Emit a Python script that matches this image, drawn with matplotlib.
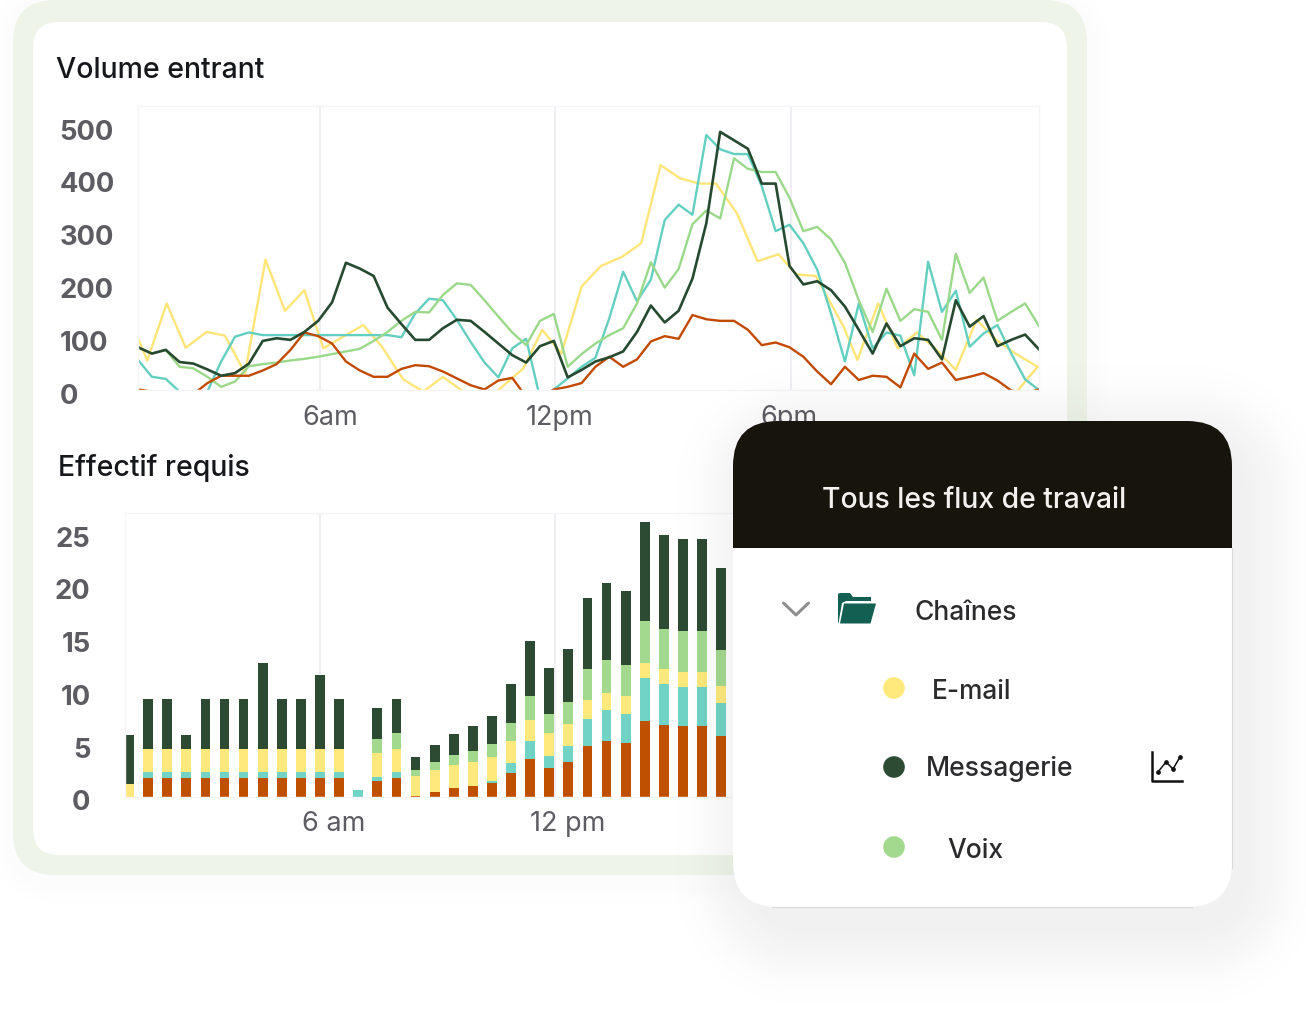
import numpy as np
import matplotlib
matplotlib.use("Agg")
import matplotlib.pyplot as plt
from matplotlib.patches import FancyBboxPatch, Rectangle, Circle, Polygon

W, H = 1306, 1024

# volume entrant, one value per sample
dark_line = [81, 69, 76, 53, 50, 39, 27, 32, 50, 93, 98, 95, 110, 131, 166, 241, 230, 216, 156, 125, 95, 95, 117, 133,
             131, 110, 88, 66, 52, 83, 93, 24, 38, 54, 62, 73, 110, 160, 128, 150, 211, 316, 489, 473, 457, 391, 391,
             235, 200, 206, 189, 158, 114, 69, 126, 83, 98, 95, 58, 170, 120, 140, 83, 95, 105, 77]
teal_line = [57, 25, 21, -3, -20, -3, 54, 101, 109, 104, 104, 104, 104, 104, 104, 104, 104, 104, 104, 100, 145, 173,
             170, 133, 91, 52, 24, 79, 97, -15, 1, 22, 44, 61, 136, 224, 168, 209, 322, 351, 332, 483, 456, 447, 447,
             386, 301, 313, 278, 228, 145, 54, 164, 79, 109, 103, 28, 243, 148, 188, 82, 107, 123, 69, 20, 0]
green_line = [81, 69, 76, 44, 41, 25, 6, 16, 45, 49, 52, 56, 59, 63, 68, 73, 78, 93, 110, 131, 148, 147, 180, 202, 199,
              170, 139, 109, 85, 131, 144, 44, 68, 88, 104, 117, 164, 242, 194, 229, 314, 340, 325, 439, 419, 413, 413,
              364, 301, 309, 285, 241, 170, 110, 192, 131, 153, 148, 95, 258, 184, 213, 131, 148, 164, 121]
orange_line = [1, -3, -12, -15, -8, 13, 27, 27, 27, 37, 49, 76, 109, 102, 88, 54, 37, 25, 25, 40, 47, 45, 35, 22, 9, 1,
               18, 23, -13, -15, 1, 6, 13, 44, 63, 44, 58, 92, 102, 97, 142, 134, 131, 131, 114, 85, 90, 81, 63, 35,
               11, 44, 19, 27, 25, 5, 69, 40, 52, 19, 25, 32, 18, -1, -6, 1]
# the yellow series is sampled on its own positions
yellow_pos = [0, 0.67, 2.07, 3.44, 4.95, 6.27, 7.72, 9.2, 10.6, 12, 13.37, 14.8, 16.25, 17.6, 19.13, 20.58, 22, 23.46,
              24.9, 25.87, 27.8, 29.16, 30.55, 32, 33.4, 34.9, 36.3, 37.7, 39.1, 40.5, 41.7, 43.2, 44.7, 46.2, 47.5,
              48.9, 50.9, 51.9, 53.4, 54.8, 56.2, 57.6, 59, 60.5, 61.9, 63.3, 64.9]
yellow_line = [98, 56, 164, 80, 110, 103, 32, 247, 150, 189, 79, 101, 123, 82, 20, -3, 25, -3, -12, -3, 41, 114, 69,
               196, 235, 252, 278, 426, 401, 391, 391, 335, 244, 257, 219, 216, 120, 57, 164, 79, 109, 76, 38, 133,
               95, 69, 44]
yellow_tail_pos = [63.4, 64.9]
yellow_tail = [-3, 44]

# effectif requis, stacked from the bottom
orange_bar = [0, 1.83, 1.83, 1.83, 1.83, 1.83, 1.83, 1.83, 1.83, 1.83, 1.83, 1.83, 0, 1.55, 1.83, 0.13, 0.44, 0.82,
              1.0, 1.29, 2.3, 3.6, 2.78, 3.34, 4.86, 5.33, 5.11, 7.19, 6.81, 6.69, 6.69, 5.8]
teal_bar = [0, 0.54, 0.54, 0.54, 0.54, 0.54, 0.54, 0.54, 0.54, 0.54, 0.54, 0.54, 0.66, 0.38, 0.54, 0, 0, 0,
            0, 0.19, 0.88, 1.7, 1.14, 1.51, 2.56, 2.87, 2.71, 4.07, 3.85, 3.75, 3.75, 3.15]
yellow_bar = [1.2, 2.2, 2.2, 2.2, 2.2, 2.2, 2.2, 2.2, 2.2, 2.2, 2.2, 2.2, 0, 2.27, 2.2, 1.86, 2.08, 2.24,
              2.33, 2.33, 2.15, 1.96, 2.11, 2.02, 1.77, 1.67, 1.7, 1.39, 1.42, 1.42, 1.42, 1.61]
green_bar = [0, 0, 0, 0, 0, 0, 0, 0, 0, 0, 0, 0, 0, 1.3, 1.45, 0.57, 0.76, 0.91,
             1.0, 1.17, 1.67, 2.3, 1.86, 2.15, 2.9, 3.15, 3.03, 4.04, 3.85, 3.82, 3.82, 3.38]
dark_bar = [4.67, 4.7, 4.7, 1.3, 4.7, 4.7, 4.7, 8.08, 4.7, 4.7, 7.0, 4.7, 0, 2.93, 3.25, 1.2, 1.67, 2.02,
            2.37, 2.65, 3.75, 5.24, 4.35, 4.98, 6.75, 7.29, 7.0, 9.37, 8.93, 8.77, 8.77, 7.79]

volume_ticks = [0, 100, 200, 300, 400, 500]
staff_ticks = [0, 5, 10, 15, 20, 25]
volume_time_pos = [13.13, 30.09, 47.12]
volume_time_labels = ["6am", "12pm", "6pm"]
staff_time_pos = [10, 22.3, 34.66]
staff_time_labels = ["6 am", "12 pm", "6 pm"]

YELLOW, DARK, GREEN, TEAL, ORANGE = "#FFE97C", "#2D4B32", "#A3D98F", "#70D3C5", "#BF5000"
TICK_GREY = "#5C5C62"
TEXT = "#2B2B2D"
GRID = "#EBEBF0"
FRAME = "#F5F5F7"

plt.rcParams["font.family"] = ["Inter", "DejaVu Sans"]
fig = plt.figure(figsize=(W / 100, H / 100), dpi=100, facecolor="white")


def px_axes(left, top, right, bottom, zorder):
    return fig.add_axes([left / W, 1 - bottom / H, (right - left) / W, (bottom - top) / H], zorder=zorder)


def soft_shadow(ax, x0, y0, x1, y1, radius, strength, spread):
    # distance to a rounded box, faded out, drawn as one grey image
    xs, ys = np.meshgrid(np.arange(W) + 0.5, np.arange(H) + 0.5)
    cx, cy = (x0 + x1) / 2, (y0 + y1) / 2
    qx = np.abs(xs - cx) - (x1 - x0) / 2 + radius
    qy = np.abs(ys - cy) - (y1 - y0) / 2 + radius
    dist = np.hypot(np.maximum(qx, 0), np.maximum(qy, 0)) + np.minimum(np.maximum(qx, qy), 0) - radius
    img = np.zeros((H, W, 4))
    img[..., :3] = 0.1
    img[..., 3] = strength * np.exp(-(np.maximum(dist, 0) / spread) ** 2)
    ax.imshow(img, extent=(0, W, H, 0), aspect="auto", interpolation="bilinear")


def rounded(ax, x0, y0, x1, y1, radius, **kw):
    patch = FancyBboxPatch((x0, y0), x1 - x0, y1 - y0, boxstyle=f"round,pad=0,rounding_size={radius}", **kw)
    ax.add_patch(patch)
    return patch


def style_chart(ax, ticks, ylim, time_pos, ylabel_x, ylabel_ha, time_labels, label_shift, label_y):
    ax.set_ylim(*ylim)
    ax.set_yticks(ticks)
    ax.set_xticks(time_pos)
    ax.tick_params(length=0, labelleft=False, labelbottom=False)
    ax.grid(axis="x", color=GRID, lw=1.1)
    ax.set_axisbelow(True)
    for side in ax.spines.values():
        side.set_color(FRAME)
        side.set_linewidth(1)
    for v in ticks:
        ax.annotate(str(v), xy=(0, v), xycoords=ax.get_yaxis_transform(), xytext=(ylabel_x * 0.72, -6.5 * 0.72),
                    textcoords="offset points", ha=ylabel_ha, va="center", fontsize=19.7, fontweight="bold",
                    color=TICK_GREY, annotation_clip=False)
    for p, lab, shift in zip(time_pos, time_labels, label_shift):
        ax.annotate(lab, xy=(p, 0), xycoords=ax.get_xaxis_transform(), xytext=(shift * 0.72, -label_y * 0.72),
                    textcoords="offset points", ha="center", va="center", fontsize=19.5, color=TICK_GREY,
                    annotation_clip=False)


# page background and the green framed card
bg = px_axes(0, 0, W, H, 0)
bg.set_xlim(0, W)
bg.set_ylim(H, 0)
bg.axis("off")
soft_shadow(bg, 13, 5, 1087, 880, 40, 0.015, 20)
bg.set_xlim(0, W)
bg.set_ylim(H, 0)
rounded(bg, 13, 0, 1087, 875, 42, fc="#EEF5E8", ec="none")
rounded(bg, 33, 22, 1067, 855, 26, fc="white", ec="none")
bg.text(56.5, 70, "Volume entrant", fontsize=20.5, fontweight="medium", color="#15171A", va="center")
bg.text(58.5, 468, "Effectif requis", fontsize=20.5, fontweight="medium", color="#15171A", va="center")

# line chart
ax_vol = px_axes(138, 106, 1039, 390, 1)
ax_vol.set_facecolor("none")
ax_vol.set_xlim(0, 65)
sample = np.arange(len(dark_line))
ax_vol.plot(yellow_pos, yellow_line, color="#FFE577", lw=1.7)
ax_vol.plot(yellow_tail_pos, yellow_tail, color="#FFE577", lw=1.7)
ax_vol.plot(sample, teal_line, color="#63CFC0", lw=1.7)
ax_vol.plot(sample, green_line, color="#9AD88A", lw=1.7)
ax_vol.plot(sample, orange_line, color="#C24A00", lw=1.7)
ax_vol.plot(sample, dark_line, color="#264A30", lw=1.9)
style_chart(ax_vol, volume_ticks, (0, 538), volume_time_pos, -78.5, "left", volume_time_labels, [10, 4, -2], 28)

# stacked bars
ax_staff = px_axes(125, 513, 1039, 797, 1)
ax_staff.set_facecolor("none")
ax_staff.set_xlim(-0.21, 47.64)
slots = np.arange(len(dark_bar))
bottom = np.zeros(len(dark_bar))
for values, colour in zip([orange_bar, teal_bar, yellow_bar, green_bar, dark_bar], [ORANGE, TEAL, YELLOW, GREEN, DARK]):
    ax_staff.bar(slots, values, bottom=bottom, width=0.51, color=colour, linewidth=0)
    bottom += np.array(values)
style_chart(ax_staff, staff_ticks, (0, 26.9), staff_time_pos, -34.5, "right", staff_time_labels, [14, 13, 0], 27)

# workflow panel on top of everything
top = px_axes(0, 0, W, H, 3)
top.set_facecolor("none")
top.axis("off")
soft_shadow(top, 755, 445, 1240, 925, 45, 0.06, 48)
top.set_xlim(0, W)
top.set_ylim(H, 0)
rounded(top, 733, 421, 1232, 907, 45, fc="white", ec="none")
head = rounded(top, 733, 421, 1232, 907, 45, fc="#17140C", ec="none")
head.set_clip_path(Rectangle((733, 421), 499, 126.5, transform=top.transData))
top.plot([772, 1192], [907, 907], color="#DADADA", lw=0.8)
top.plot([1232, 1232], [548, 868], color="#DADADA", lw=0.8)
top.text(974.5, 501, "Tous les flux de travail", fontsize=20.4, fontweight="medium", color="#F4F2EE", ha="center",
         va="center")

# chevron and folder
top.plot([783.5, 796, 808.5], [603, 615, 603], color="#8F8F8F", lw=2.2, solid_capstyle="round")
top.add_patch(Polygon([(838, 623), (838, 594), (840, 593), (850, 593), (853, 597), (871, 597), (871, 601), (846, 601),
                       (842, 603), (838.5, 623)], fc="#135F52", ec="none"))
top.add_patch(Polygon([(844, 603.5), (876, 603.5), (870.5, 623.5), (840, 623.5)], fc="#135F52", ec="none"))
top.text(914.5, 613, "Chaînes", fontsize=19, fontweight="medium", color=TEXT, va="center")

# legend rows
top.add_patch(Circle((894, 688), 10.8, fc="#FFE97C", ec="none"))
top.add_patch(Circle((894, 767), 10.8, fc="#2D4B32", ec="none"))
top.add_patch(Circle((894, 847), 10.8, fc="#A3D98F", ec="none"))
top.text(931.5, 692, "E-mail", fontsize=18.9, fontweight="medium", color=TEXT, va="center")
top.text(925.5, 769, "Messagerie", fontsize=19.05, fontweight="medium", color=TEXT, va="center")
top.text(947, 851, "Voix", fontsize=19, fontweight="medium", color=TEXT, va="center")

# small chart icon
top.plot([1151.5, 1151.5, 1182], [752, 781, 781], color="#111111", lw=1.8)
top.plot([1158, 1166, 1173, 1180], [772, 762, 769, 757], color="#111111", lw=1.1, marker="o", ms=2.4)

fig.savefig("out.png", dpi=100)
